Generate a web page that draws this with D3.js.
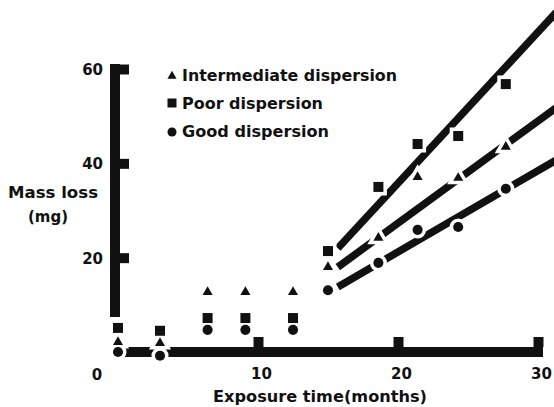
<!DOCTYPE html>
<html>
<head>
<meta charset="utf-8">
<script src="https://cdn.jsdelivr.net/npm/d3@7/dist/d3.min.js"></script>
<style>
  html, body { margin: 0; padding: 0; background: #fff; }
  svg { display: block; }
  text { font-family: "DejaVu Sans", "Liberation Sans", Arial, sans-serif; font-weight: bold; fill: #111; }
</style>
</head>
<body>
<svg id="chart" width="554" height="407"></svg>
<script>
// Exposure times (months) and mass loss (mg) for each dispersion grade
const months       = [0, 3, 6.4, 9.1, 12.5, 15, 18.6, 21.4, 24.3, 27.7];
const intermediate = [2.1, 1.9, 12.7, 12.7, 12.7, 18.0, 24.2, 37.1, 36.9, 43.5];
const poor         = [5.1, 4.5, 7.2, 7.2, 7.2, 21.4, 35.0, 44.1, 45.8, 56.8];
const good         = [0, -0.8, 4.7, 4.7, 4.7, 13.1, 18.9, 25.9, 26.5, 34.6];

// Straight-line fits over the late-exposure region
const fitMonths        = [15.7, 31.3];
const poorFit          = [22.0, 72.0];
const intermediateFit  = [18.0, 51.8];
const goodFit          = [13.8, 40.7];

const xTicks = [10, 20, 30];
const yTicks = [20, 40, 60];

const seriesNames = ["Intermediate dispersion", "Poor dispersion", "Good dispersion"];

const svg = d3.select("#chart");
const ink = "#111";

const x = d3.scaleLinear().domain([0, 30]).range([118, 538]);
const y = d3.scaleLinear().domain([0, 60]).range([352, 69]);

const symbols = {
  tri: d3.symbol().type(d3.symbolTriangle),
  sq: d3.symbol().type(d3.symbolSquare),
  circ: d3.symbol().type(d3.symbolCircle)
};
const sizes = { tri: 44, sq: 100, circ: 80 };

// ---- axes: heavy bars with block ticks ----
const axisG = svg.append("g");

// y axis bar
axisG.append("line")
  .attr("x1", x(0) - 3).attr("x2", x(0) - 3)
  .attr("y1", y(60) - 5).attr("y2", y(7.4))
  .attr("stroke", ink).attr("stroke-width", 10);

const yAxis = d3.axisLeft(y).tickValues(yTicks).tickSizeInner(-10).tickSizeOuter(0).tickPadding(16);
const yg = axisG.append("g").attr("transform", `translate(${x(0) + 1},0)`).call(yAxis);
yg.select(".domain").remove();
yg.selectAll(".tick line").attr("stroke", ink).attr("stroke-width", 10);
yg.selectAll(".tick text")
  .attr("font-size", 15).attr("font-family", "DejaVu Sans, sans-serif")
  .attr("font-weight", "bold").attr("fill", ink).attr("dy", "0.36em");

// x axis bar
axisG.append("line")
  .attr("x1", x(0)).attr("x2", x(30) + 5)
  .attr("y1", y(0)).attr("y2", y(0))
  .attr("stroke", ink).attr("stroke-width", 10);

const xAxis = d3.axisBottom(x).tickValues(xTicks).tickSizeInner(-10).tickSizeOuter(0).tickPadding(21);
const xg = axisG.append("g").attr("transform", `translate(0,${y(0) - 5})`).call(xAxis);
xg.select(".domain").remove();
xg.selectAll(".tick line").attr("stroke", ink).attr("stroke-width", 10);
xg.selectAll(".tick text")
  .attr("font-size", 15).attr("font-family", "DejaVu Sans, sans-serif")
  .attr("font-weight", "bold").attr("fill", ink).attr("dx", "0.2em");

// origin label
svg.append("text").attr("x", x(0) - 21).attr("y", 380)
  .attr("text-anchor", "middle").attr("font-size", 15).text("0");

// ---- fitted lines ----
const line = d3.line().x(d => x(d[0])).y(d => y(d[1]));
const fits = [poorFit, intermediateFit, goodFit];
fits.forEach(f => {
  svg.append("path")
    .attr("d", line(fitMonths.map((m, i) => [m, f[i]])))
    .attr("fill", "none").attr("stroke", ink).attr("stroke-width", 7.5);
});

// ---- data markers (white halo breaks lines beneath) ----
const series = [
  { key: "tri", values: intermediate },
  { key: "sq", values: poor },
  { key: "circ", values: good }
];
const halo = svg.append("g");
const marks = svg.append("g");
series.forEach(s => {
  const pts = months.map((m, i) => [m, s.values[i]]);
  halo.selectAll(null).data(pts).join("path")
    .attr("d", symbols[s.key].size(sizes[s.key]))
    .attr("transform", d => `translate(${x(d[0])},${y(d[1])})`)
    .attr("fill", "#fff").attr("stroke", "#fff").attr("stroke-width", 7);
  marks.selectAll(null).data(pts).join("path")
    .attr("d", symbols[s.key].size(sizes[s.key]))
    .attr("transform", d => `translate(${x(d[0])},${y(d[1])})`)
    .attr("fill", ink);
});

// ---- legend ----
const legend = [
  { key: "tri", size: 36, cy: 76, base: 81, len: 215 },
  { key: "sq", size: 81, cy: 103, base: 109, len: 141 },
  { key: "circ", size: 64, cy: 132, base: 137, len: 147 }
];
legend.forEach((l, i) => {
  svg.append("path")
    .attr("d", symbols[l.key].size(l.size)())
    .attr("transform", `translate(172,${l.cy})`).attr("fill", ink);
  svg.append("text").attr("x", 182).attr("y", l.base)
    .attr("font-size", 15).attr("textLength", l.len).attr("lengthAdjust", "spacingAndGlyphs")
    .text(seriesNames[i]);
});

// ---- axis titles ----
svg.append("text").attr("x", 8).attr("y", 198).attr("font-size", 15)
  .attr("textLength", 90).attr("lengthAdjust", "spacingAndGlyphs").text("Mass loss");
svg.append("text").attr("x", 28).attr("y", 222).attr("font-size", 15)
  .attr("textLength", 40).attr("lengthAdjust", "spacingAndGlyphs").text("(mg)");
svg.append("text").attr("x", 213).attr("y", 402).attr("font-size", 15)
  .attr("textLength", 214).attr("lengthAdjust", "spacingAndGlyphs").text("Exposure time(months)");
</script>
</body>
</html>
